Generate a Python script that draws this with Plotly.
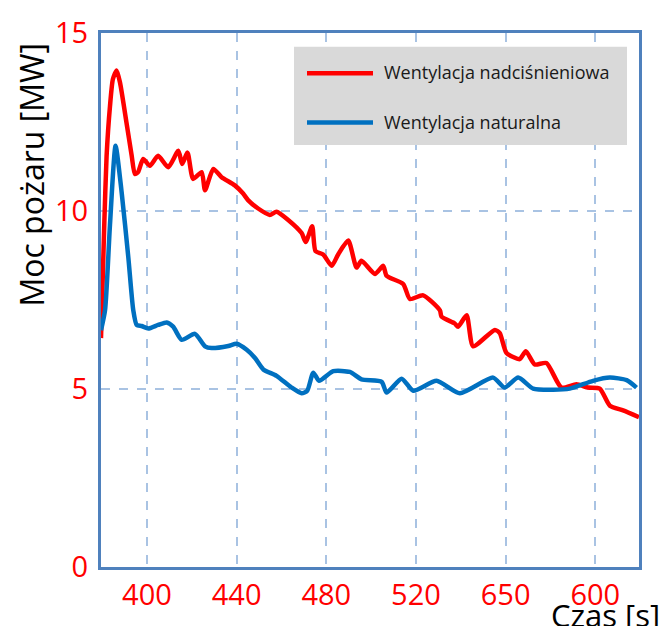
import plotly.graph_objects as go

# ---- data ----
t_nadcis = [379.5, 381.0, 382.0, 383.5, 384.8, 386.5, 388.0, 390.9, 393.2, 394.6, 396.1,
            398.3, 401.3, 405.0, 409.5, 414.0, 415.7, 418.1, 420.6, 424.4, 425.9, 429.6,
            433.3, 439.2, 442.9, 445.2, 449.6, 454.8, 457.8, 463.0, 469.0, 470.8, 473.7,
            475.2, 478.6, 482.4, 485.3, 489.8, 493.5, 495.7, 501.7, 505.4, 506.9, 514.3,
            517.3, 523.2, 530.7, 531.4, 537.3, 538.8, 542.6, 545.5, 555.2, 557.4, 560.4,
            566.3, 569.0, 573.0, 578.2, 584.9, 591.6, 596.8, 602.0, 606.5, 612.4, 619.5]
p_nadcis = [6.43, 9.70, 11.55, 12.94, 13.70, 13.95, 13.60, 12.47, 11.55, 11.04, 11.10,
            11.46, 11.27, 11.55, 11.23, 11.69, 11.32, 11.64, 10.90, 11.09, 10.58, 11.18,
            10.95, 10.72, 10.49, 10.30, 10.07, 9.89, 9.98, 9.75, 9.38, 9.13, 9.57,
            8.87, 8.78, 8.46, 8.78, 9.17, 8.41, 8.60, 8.23, 8.46, 8.18, 7.95,
            7.53, 7.63, 7.21, 7.03, 6.84, 6.75, 7.07, 6.20, 6.66, 6.57, 6.01,
            5.84, 6.06, 5.69, 5.73, 5.04, 5.13, 5.04, 5.01, 4.53, 4.40, 4.21]

t_natur = [379.5, 381.3, 383.5, 386.0, 388.7, 391.7, 393.9, 395.4, 397.6, 400.6, 405.0,
           408.8, 411.7, 415.5, 421.4, 425.9, 428.9, 436.3, 440.0, 444.5, 448.2, 451.9,
           457.8, 464.5, 469.0, 471.5, 474.2, 476.8, 483.1, 490.5, 495.7, 504.7, 506.9,
           513.6, 518.8, 529.2, 539.6, 554.4, 559.6, 565.6, 572.3, 581.2, 588.6, 599.0,
           606.5, 614.0, 618.4]
p_natur = [6.65, 7.21, 9.61, 11.83, 10.53, 8.69, 7.21, 6.80, 6.77, 6.70, 6.80,
           6.87, 6.75, 6.38, 6.55, 6.20, 6.15, 6.21, 6.27, 6.10, 5.87, 5.55,
           5.37, 5.04, 4.88, 4.95, 5.46, 5.23, 5.50, 5.48, 5.27, 5.20, 4.90,
           5.29, 4.95, 5.23, 4.88, 5.32, 5.04, 5.32, 5.01, 4.98, 5.01, 5.23,
           5.32, 5.25, 5.04]

x_tickvals = [400, 440, 480, 520, 560, 600]
x_ticktext = ["400", "440", "480", "520", "650", "600"]
y_tickvals = [0, 5, 10, 15]

name_red = "Wentylacja nadciśnieniowa"
name_blue = "Wentylacja naturalna"

RED = "#FF0000"
BLUE = "#0070C0"
FRAME = "#4F81BD"
GRID = "#A9C3E3"

W, H = 664, 626
L, R, T, B = 101, 25, 24, 59
PW, PH = W - L - R, H - T - B


def px(x):
    return (x - L) / PW


def py(y):
    return (H - B - y) / PH


fig = go.Figure()
fig.add_trace(go.Scatter(x=t_nadcis, y=p_nadcis, mode="lines", name=name_red,
                         line=dict(color=RED, width=4.5, shape="spline", smoothing=0.6),
                         showlegend=False))
fig.add_trace(go.Scatter(x=t_natur, y=p_natur, mode="lines", name=name_blue,
                         line=dict(color=BLUE, width=4.5, shape="spline", smoothing=0.6),
                         showlegend=False))

font_fam = "Open Sans, Liberation Sans, sans-serif"

fig.update_layout(
    width=W, height=H,
    margin=dict(l=L, r=R, t=T, b=B),
    paper_bgcolor="white", plot_bgcolor="white",
    font=dict(family=font_fam),
    xaxis=dict(range=[379.5, 619.5], tickvals=x_tickvals, ticktext=x_ticktext,
               showgrid=True, gridcolor=GRID, gridwidth=1.5, griddash="dash",
               showline=True, linecolor=FRAME, linewidth=3, mirror=True,
               ticks="", zeroline=False, ticklabelstandoff=0,
               tickfont=dict(color=RED, size=29, family=font_fam)),
    yaxis=dict(range=[0, 15], tickvals=y_tickvals,
               showgrid=True, gridcolor=GRID, gridwidth=1.5, griddash="dash",
               showline=True, linecolor=FRAME, linewidth=3, mirror=True,
               ticks="", zeroline=False, ticklabelstandoff=4,
               tickfont=dict(color=RED, size=29, family=font_fam)),
)

# legend box (manual, to match the reference's long line samples)
fig.add_shape(type="rect", xref="paper", yref="paper",
              x0=px(294), x1=px(627), y0=py(138), y1=py(38),
              fillcolor="#D9D9D9", line=dict(width=0), layer="above")
for yy, col, txt in [(65, RED, name_red), (115, BLUE, name_blue)]:
    fig.add_shape(type="line", xref="paper", yref="paper",
                  x0=px(307), x1=px(373), y0=py(yy), y1=py(yy),
                  line=dict(color=col, width=4.5), layer="above")
    fig.add_annotation(xref="paper", yref="paper", x=px(382), y=py(yy - 1),
                       text=txt, showarrow=False, xanchor="left", yanchor="middle",
                       font=dict(size=18, color="#1a1a1a", family=font_fam))

# axis titles
fig.add_annotation(xref="paper", yref="paper", x=px(32), y=py(168),
                   text="Moc pożaru [MW]", showarrow=False, textangle=-90,
                   xanchor="center", yanchor="middle",
                   font=dict(size=32, color="black", family=font_fam))
fig.add_annotation(xref="paper", yref="paper", x=px(605), y=py(616),
                   text="Czas [s]", showarrow=False,
                   xanchor="center", yanchor="middle",
                   font=dict(size=31, color="black", family=font_fam))

fig.write_html("out.html")
